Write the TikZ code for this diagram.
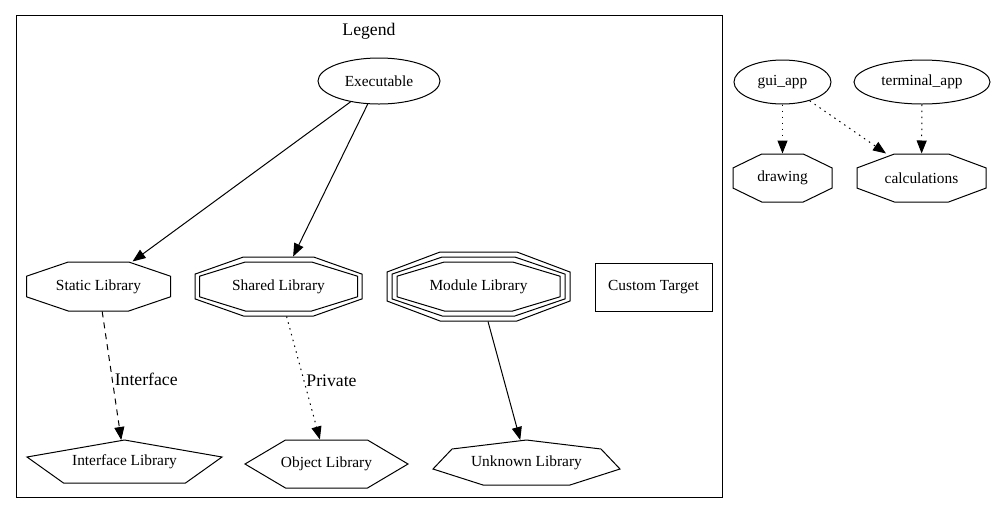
\documentclass[tikz,border=0pt]{standalone}
\usepackage{fontspec}
\setmainfont{Liberation Serif}
\usetikzlibrary{arrows.meta,shapes.geometric}

% octagon round a node: name, half width, half height
\newcommand\octagon[3]{%
  \draw ([shift={(-#2,-0.42*#3)}]#1.center) -- ([shift={(-0.42*#2,-#3)}]#1.center)
     -- ([shift={(0.42*#2,-#3)}]#1.center) -- ([shift={(#2,-0.42*#3)}]#1.center)
     -- ([shift={(#2,0.42*#3)}]#1.center) -- ([shift={(0.42*#2,#3)}]#1.center)
     -- ([shift={(-0.42*#2,#3)}]#1.center) -- ([shift={(-#2,0.42*#3)}]#1.center) -- cycle;}

\tikzset{
  lbl/.style={font=\fontsize{15.4}{18}\selectfont, inner sep=0pt},
  elbl/.style={font=\fontsize{17.7}{20}\selectfont, inner sep=2pt},
  edge/.style={-{Triangle[length=13pt,width=10pt]}},
  dots/.style={dash pattern=on 1.5pt off 4.5pt},
  dashes/.style={dash pattern=on 6pt off 5pt}
}

\begin{document}
\begin{tikzpicture}[x=1pt, y=-1pt, line width=1pt]
      \useasboundingbox (0,0) rectangle (996,515);
      % Legend
      \draw (16,15) rectangle (722,497);
      \node[elbl] (legend) at (369,31) {Legend};
      \node[lbl, draw, ellipse, minimum width=122pt, minimum height=46pt] (exe) at (379,81) {Executable};
      % libraries
      \node[lbl, minimum width=144pt, minimum height=49pt] (static) at (98.5,286.5) {Static Library};
      \octagon{static}{72}{24.5}
      \node[lbl, minimum width=167pt, minimum height=59pt] (shared) at (278.5,286.5) {Shared Library};
      \octagon{shared}{83.5}{29.5}
      \octagon{shared}{79}{24.5}
      \node[lbl, minimum width=183pt, minimum height=69pt] (module) at (478.5,286.5) {Module Library};
      \octagon{module}{91.5}{34.5}
      \octagon{module}{86.5}{29.5}
      \octagon{module}{81.5}{24.5}
      \node[lbl, draw, minimum width=117pt, minimum height=48pt] (custom) at (653.5,287) {Custom Target};
      \node[lbl, minimum width=195pt, minimum height=43pt] (iface) at (124.5,462) {Interface Library};
      \draw ([shift={(0,-22)}]iface.center) -- ([shift={(97.5,-5)}]iface.center) -- ([shift={(61,21)}]iface.center)
         -- ([shift={(-61,21)}]iface.center) -- ([shift={(-97.5,-5)}]iface.center) -- cycle;
      \node[lbl, minimum width=163pt, minimum height=48pt] (object) at (326.5,464) {Object Library};
      \draw ([shift={(-81.5,0)}]object.center) -- ([shift={(-41,-24)}]object.center) -- ([shift={(41,-24)}]object.center)
         -- ([shift={(81.5,0)}]object.center) -- ([shift={(41,24)}]object.center) -- ([shift={(-41,24)}]object.center) -- cycle;
      \node[lbl, minimum width=187pt, minimum height=45pt] (unknown) at (526.5,463) {Unknown Library};
      \draw ([shift={(0,-23)}]unknown.center) -- ([shift={(74.5,-14)}]unknown.center) -- ([shift={(93.5,6)}]unknown.center)
         -- ([shift={(43.5,22)}]unknown.center) -- ([shift={(-43.5,22)}]unknown.center) -- ([shift={(-93.5,6)}]unknown.center)
         -- ([shift={(-74.5,-14)}]unknown.center) -- cycle;
      % links
      \draw[edge] (exe) -- (static);
      \draw[edge] (exe) -- (shared);
      \draw[edge, dashes] (static) -- node[elbl, right, pos=0.53] {Interface} (iface);
      \draw[edge, dots] (shared) -- node[elbl, right, pos=0.52] {Private} (object);
      \draw[edge] (module) -- (unknown);
      % targets
      \node[lbl, draw, ellipse, minimum width=97pt, minimum height=44pt] (gui) at (782.5,82) {gui\_app};
      \node[lbl, draw, ellipse, minimum width=136pt, minimum height=44pt] (term) at (922,82) {terminal\_app};
      \node[lbl, minimum width=99pt, minimum height=48pt] (drawing) at (782.5,178) {drawing};
      \octagon{drawing}{49.5}{24}
      \node[lbl, minimum width=129pt, minimum height=48pt] (calc) at (921.5,178) {calculations};
      \octagon{calc}{64.5}{24}
      \draw[edge, dots] (gui) -- (drawing);
      \draw[edge, dots] (gui) -- (calc);
      \draw[edge, dots] (term) -- (calc);
\end{tikzpicture}
\end{document}
